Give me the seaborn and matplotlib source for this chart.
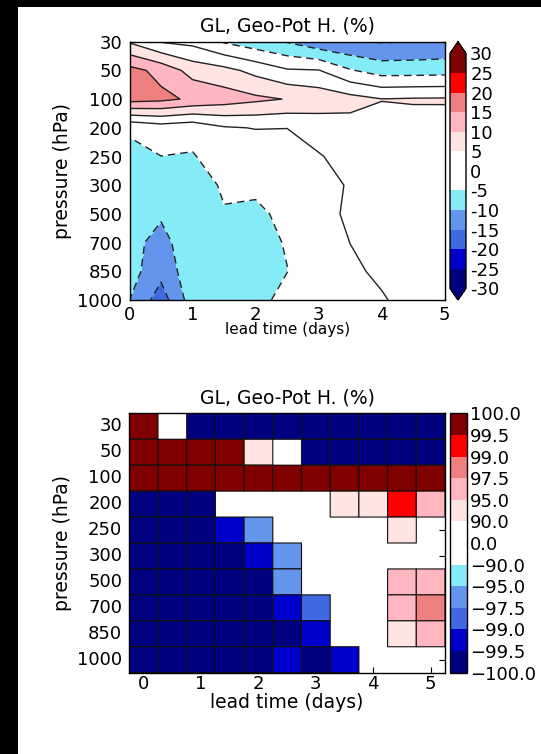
import numpy as np
import pandas as pd
import matplotlib
matplotlib.use("Agg")
import matplotlib.pyplot as plt
import seaborn as sns
from matplotlib.colors import ListedColormap, BoundaryNorm
from matplotlib.patches import Rectangle

pressures = [30, 50, 100, 200, 250, 300, 500, 700, 850, 1000]
lead_times = [0, 0.5, 1, 1.5, 2, 2.5, 3, 3.5, 4, 4.5, 5]
day_ticks = [0, 1, 2, 3, 4, 5]

# relative change of geopotential height (%), one row per pressure level
geopot_change = [
    [4.5, -0.3, -1.4, -5.5, -8.0, -10.3, -13.5, -14.8, -15.3, -15.0, -14.5],
    [16.7, 13.5, 8.0, 6.5, 3.5, 0.5, 0.2, -4.6, -7.3, -7.2, -7.0],
    [17.0, 16.2, 14.2, 12.5, 11.0, 9.8, 8.2, 6.8, 5.1, 5.4, 5.5],
    [-4.5, -2.5, -3.5, -0.5, 0.2, 0.05, 1.8, 3.05, 3.85, 3.3, 2.9],
    [-6.0, -5.05, -5.3, -3.0, -3.5, -2.0, -0.3, 1.5, 2.0, 2.0, 2.0],
    [-8.0, -6.5, -6.5, -4.6, -4.6, -3.5, -2.0, 0.5, 1.5, 2.0, 2.0],
    [-8.5, -9.4, -7.5, -5.2, -5.4, -4.5, -2.5, 1.2, 1.5, 2.0, 2.0],
    [-8.5, -11.6, -6.9, -6.5, -6.0, -4.8, -3.0, 0.05, 1.5, 2.0, 2.0],
    [-8.0, -13.5, -6.8, -6.5, -6.3, -5.05, -3.0, -1.0, 1.0, 1.5, 1.5],
    [-10.0, -17.5, -7.4, -6.5, -6.0, -4.0, -2.5, -1.5, -0.5, 2.0, 1.5],
]

# signed confidence level (%) of the change; 0 where not significant
confidence = [
    [99.8, 0, -99.8, -99.8, -99.8, -99.8, -99.8, -99.8, -99.8, -99.8, -99.8],
    [99.8, 99.8, 99.8, 99.8, 92.0, 0, -99.8, -99.8, -99.8, -99.8, -99.8],
    [99.8, 99.8, 99.8, 99.8, 99.8, 99.8, 99.8, 99.8, 99.8, 99.8, 99.8],
    [-99.8, -99.8, -99.8, 0, 0, 0, 0, 92.0, 92.0, 99.2, 96.0],
    [-99.8, -99.8, -99.8, -99.2, -96.0, 0, 0, 0, 0, 92.0, 0],
    [-99.8, -99.8, -99.8, -99.8, -99.2, -96.0, 0, 0, 0, 0, 0],
    [-99.8, -99.8, -99.8, -99.8, -99.8, -96.0, 0, 0, 0, 96.0, 96.0],
    [-99.8, -99.8, -99.8, -99.8, -99.8, -99.2, -98.0, 0, 0, 96.0, 98.0],
    [-99.8, -99.8, -99.8, -99.8, -99.8, -99.8, -99.2, 0, 0, 92.0, 96.0],
    [-99.8, -99.8, -99.8, -99.8, -99.8, -99.2, -99.8, -99.2, 0, 0, 0],
]

anom_levels = [-30, -25, -20, -15, -10, -5, 0, 5, 10, 15, 20, 25, 30]
conf_levels = [-100, -99.5, -99, -97.5, -95, -90, 0, 90, 95, 97.5, 99, 99.5, 100]
band_colors = ["#000080", "#0000CD", "#4169E1", "#6495ED", "#85EBF7", "#FFFFFF",
               "#FFFFFF", "#FFE4E1", "#FFB6C1", "#F08080", "#FF0000", "#800000"]

TICK_FS = 13
LABEL_FS = 13.5

sns.set_style("white")
plt.rcParams.update({
    "font.family": ["DejaVu Sans"],
    "font.size": TICK_FS,
    "axes.edgecolor": "black",
    "axes.linewidth": 1.0,
    "xtick.direction": "in",
    "ytick.direction": "in",
    "xtick.top": True,
    "ytick.right": True,
    "xtick.bottom": True,
    "ytick.left": True,
    "xtick.major.size": 4,
    "ytick.major.size": 4,
    "xtick.major.pad": 6,
    "ytick.major.pad": 6,
    "xtick.labelsize": TICK_FS,
    "ytick.labelsize": TICK_FS,
    "xtick.color": "black",
    "ytick.color": "black",
    "text.color": "black",
    "axes.labelcolor": "black",
})

W, H = 541, 754
fig = plt.figure(figsize=(W / 100, H / 100), dpi=100)
fig.patch.set_facecolor("white")
fig.add_artist(Rectangle((0, 0), 18 / W, 1, transform=fig.transFigure,
                         facecolor="black", edgecolor="none", zorder=-5))
fig.add_artist(Rectangle((0, 1 - 7 / H), 1, 7 / H, transform=fig.transFigure,
                         facecolor="black", edgecolor="none", zorder=-5))


def frac(x0, y0, x1, y1):
    return [x0 / W, 1 - y1 / H, (x1 - x0) / W, (y1 - y0) / H]


title = "GL, Geo-Pot H. (%)"

# --- upper panel: filled contours of the change ---
ax1 = fig.add_axes(frac(129.5, 41.7, 444.8, 300))
cax1 = fig.add_axes(frac(450, 41.7, 466, 300))

cmap1 = ListedColormap(band_colors)
cmap1.set_under(band_colors[0])
cmap1.set_over(band_colors[-1])
norm1 = BoundaryNorm(anom_levels, cmap1.N)

Z = np.array(geopot_change)
X, Y = np.meshgrid(lead_times, np.arange(len(pressures)))
cf = ax1.contourf(X, Y, Z, levels=anom_levels, cmap=cmap1, norm=norm1, extend="both")
line_styles = [(0, (5.5, 3.5)) if lev < 0 else "solid" for lev in anom_levels]
ax1.contour(X, Y, Z, levels=anom_levels, colors="#222222", linewidths=1.0,
            linestyles=line_styles)
ax1.set_xlim(0, 5)
ax1.set_ylim(len(pressures) - 1, 0)
ax1.set_xticks(day_ticks)
ax1.set_xticklabels([str(d) for d in day_ticks])
ax1.set_yticks(range(len(pressures)))
ax1.set_yticklabels([str(p) for p in pressures])
ax1.tick_params(axis="x", pad=4)
ax1.tick_params(axis="y", pad=5)
ax1.set_title(title, fontsize=LABEL_FS, pad=7)
ax1.set_xlabel("lead time (days)", fontsize=11, labelpad=-1)
ax1.set_ylabel("pressure (hPa)", fontsize=LABEL_FS)

cb1 = fig.colorbar(cf, cax=cax1, ticks=anom_levels)
cb1.set_ticklabels([str(v) for v in anom_levels])
cb1.ax.tick_params(length=0, pad=3, labelsize=TICK_FS)
cb1.outline.set_linewidth(1.0)

# --- lower panel: significance of the change per cell ---
ax2 = fig.add_axes(frac(129.3, 413.3, 445.0, 672.7))
cax2 = fig.add_axes(frac(450, 413.3, 467, 672.7))

cmap2 = ListedColormap(band_colors)
norm2 = BoundaryNorm(conf_levels, cmap2.N)
conf_df = pd.DataFrame(confidence, index=pressures, columns=lead_times)
not_significant = conf_df.abs() < 90
sns.heatmap(conf_df, ax=ax2, cmap=cmap2, norm=norm2, mask=not_significant,
            linewidths=0, cbar_ax=cax2, cbar_kws={"ticks": conf_levels})
# outline only the significant cells
ax2.pcolor(np.ma.masked_where(not_significant.values, conf_df.values),
           cmap=cmap2, norm=norm2, edgecolors="#111111", linewidth=0.8)
for s in ax2.spines.values():
    s.set_visible(True)
    s.set_color("black")
    s.set_linewidth(1.0)
ax2.set_xlim(0, len(lead_times))
ax2.set_ylim(len(pressures), 0)
ax2.set_xticks([lead_times.index(d) + 0.5 for d in day_ticks])
ax2.set_xticklabels([str(d) for d in day_ticks], rotation=0)
ax2.set_yticks(np.arange(len(pressures)) + 0.5)
ax2.set_yticklabels([str(p) for p in pressures], rotation=0, va="center")
ax2.tick_params(direction="in", top=True, right=True, bottom=True, left=True,
                length=4, pad=5, labelsize=TICK_FS)
ax2.tick_params(axis="x", pad=1.5)
ax2.set_title(title, fontsize=LABEL_FS, pad=7)
ax2.set_xlabel("lead time (days)", fontsize=LABEL_FS, labelpad=0)
ax2.set_ylabel("pressure (hPa)", fontsize=LABEL_FS)

cb2 = ax2.collections[0].colorbar
cb2.set_ticks(conf_levels)
cb2.set_ticklabels([f"{v:.1f}".replace("-", "\u2212") for v in conf_levels])
cb2.ax.tick_params(length=0, pad=2, labelsize=TICK_FS)
cb2.outline.set_visible(True)
cb2.outline.set_linewidth(1.0)

fig.savefig("out.png", dpi=100, facecolor=fig.get_facecolor())
